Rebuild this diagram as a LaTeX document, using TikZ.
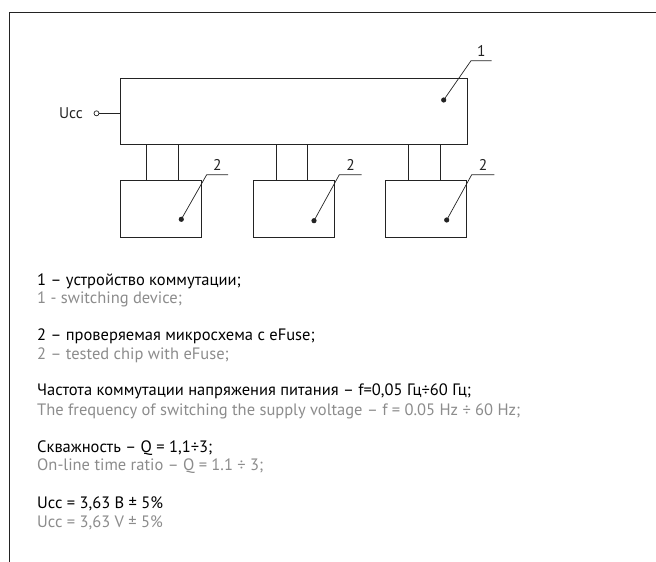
\documentclass[tikz,border=0pt]{standalone}
\usepackage{fontspec}
\setmainfont{PT Sans}
\usetikzlibrary{positioning,calc}
\definecolor{inkgrey}{RGB}{35,35,35}
\definecolor{engrey}{RGB}{140,140,140}
\tikzset{
  blk/.style={draw=inkgrey,line width=0.9pt,rectangle,inner sep=0pt},
  lead/.style={draw=inkgrey,line width=0.7pt},
  numlbl/.style={font=\fontsize{15.5}{15.5}\selectfont,text=inkgrey,inner sep=0pt},
  rutxt/.style={font=\fontsize{16.5}{18}\selectfont,text=black,anchor=mid west,inner sep=0pt},
  entxt/.style={font=\fontsize{16.5}{18}\selectfont,text=engrey,anchor=mid west,inner sep=0pt}
}
\begin{document}
\begin{tikzpicture}[x=1pt,y=-1pt]
\useasboundingbox (0,0) rectangle (656,562);
% ---------- frame ----------
\draw[inkgrey,line width=0.9pt] (9.5,562) -- (9.5,12.5) -- (660,12.5);
% ---------- switching device and chips ----------
\node[blk,minimum width=347pt,minimum height=66pt] (sw) at (293.8,111.3) {};
\node[blk,minimum width=81pt,minimum height=56.3pt] (chipA) at (160.8,208.8) {};
\node[blk,minimum width=81pt,minimum height=56.3pt] (chipB) at (293.8,208.8) {};
\node[blk,minimum width=81pt,minimum height=56.3pt] (chipC) at (426.4,208.8) {};
% supply input
\node[draw=inkgrey,circle,line width=0.7pt,minimum size=5pt,inner sep=0pt] (ucc) at (96.5,113.3) {};
\node[font=\fontsize{15.5}{15.5}\selectfont,text=inkgrey,anchor=east,inner sep=0pt] (ucclbl) at (83,113.3) {Ucc};
\draw[lead] (ucc.east) -- (ucc.east -| sw.west);
% legs between device and chips
\coordinate (a1) at ([xshift=26.7pt]chipA.north west);
\coordinate (a2) at ([xshift=58.4pt]chipA.north west);
\coordinate (b1) at ([xshift=23.4pt]chipB.north west);
\coordinate (b2) at ([xshift=54.7pt]chipB.north west);
\coordinate (c1) at ([xshift=23.3pt]chipC.north west);
\coordinate (c2) at ([xshift=54.7pt]chipC.north west);
\foreach \lg in {a1,a2,b1,b2,c1,c2}
  \draw[lead,line width=0.9pt] (\lg) -- (\lg |- sw.south);
% ---------- leaders ----------
\coordinate (d1) at (443.7,100);
\coordinate (k1) at (471,60.7);
\coordinate (e1) at (491.5,60.7);
\fill[inkgrey] (d1) circle (2.6pt);
\draw[lead] (d1) -- (k1) -- (e1);
\node[numlbl,above=4pt of $(k1)!0.5!(e1)$] (n1) {1};
\foreach \ch/\dx/\dy/\kx/\ex in {A/181.3/219.3/206.7/228, B/314/220.7/339.3/361.7, C/446.7/220/471.7/494.3}{
  \fill[inkgrey] (\dx,\dy) circle (2.6pt);
  \draw[lead] (\dx,\dy) -- (\kx,174.7) -- (\ex,174.7);
  \node[numlbl,above=4pt] (n2\ch) at ({(\kx+\ex)/2},174.7) {2};
}
% ---------- legend ----------
\node[rutxt] (ru1) at (37,282.7) {1 – устройство коммутации;};
\node[entxt] (en1) at (37,300.7) {1 - switching device;};
\node[rutxt] (ru2) at (37,338.3) {2 – проверяемая микросхема с eFuse;};
\node[entxt] (en2) at (37,356.7) {2 – tested chip with eFuse;};
\node[rutxt] (ru3) at (37,393.3) {Частота коммутации напряжения питания – f=0,05 Гц÷60 Гц;};
\node[entxt] (en3) at (37,412.7) {The frequency of switching the supply voltage – f = 0.05 Hz ÷ 60 Hz;};
\node[rutxt] (ru4) at (37,450) {Скважность – Q = 1,1÷3;};
\node[entxt] (en4) at (37,468.3) {On-line time ratio – Q = 1.1 ÷ 3;};
\node[rutxt] (ru5) at (37,506) {Ucc = 3,63 В ± 5\%};
\node[entxt] (en5) at (37,525) {Ucc = 3,63 V ± 5\%};
\end{tikzpicture}
\end{document}
